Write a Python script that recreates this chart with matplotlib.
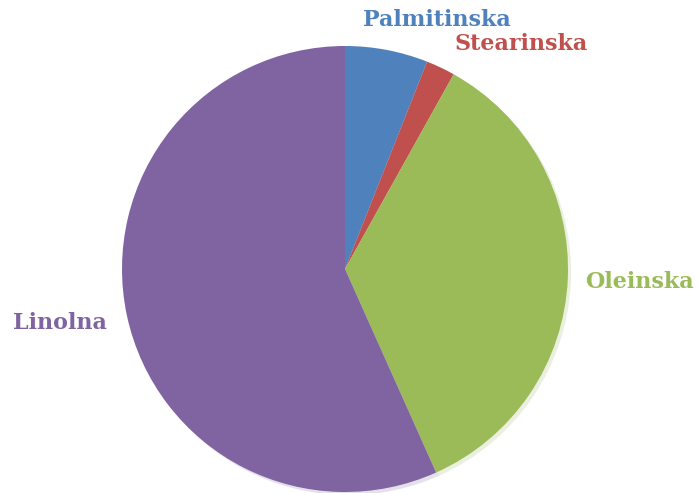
import matplotlib.pyplot as plt
import numpy as np

# udeli masnih kislin (%)
kisline = ["Palmitinska", "Stearinska", "Oleinska", "Linolna"]
udeli = [6, 2.1, 35.2, 56.7]
barve = ["#4F81BD", "#C0504D", "#9BBB59", "#8064A2"]

W, H = 699, 493
cx, cy, r = 345, 269, 223

fig = plt.figure(figsize=(W / 100, H / 100), dpi=100)
ax = fig.add_axes([0, 0, 1, 1])

ax.pie(udeli, colors=barve, startangle=90, counterclock=False, radius=1,
       wedgeprops=dict(linewidth=0),
       shadow=dict(ox=0.01, oy=-0.01, shade=0.1, alpha=0.18))

ax.set_xlim(-cx / r, (W - cx) / r)
ax.set_ylim(-(H - cy) / r, cy / r)
ax.set_aspect("auto")
ax.axis("off")

# polozaji oznak (relativno na polmer)
oznake_xy = [(0.41, 1.115), (0.79, 1.01), (1.32, -0.06), (-1.28, -0.24)]
for ime, (x, y), c in zip(kisline, oznake_xy, barve):
    ax.text(x, y, ime, color=c, fontsize=16, fontweight="bold",
            family="DejaVu Serif", ha="center", va="center")

fig.savefig("out.png", dpi=100)
